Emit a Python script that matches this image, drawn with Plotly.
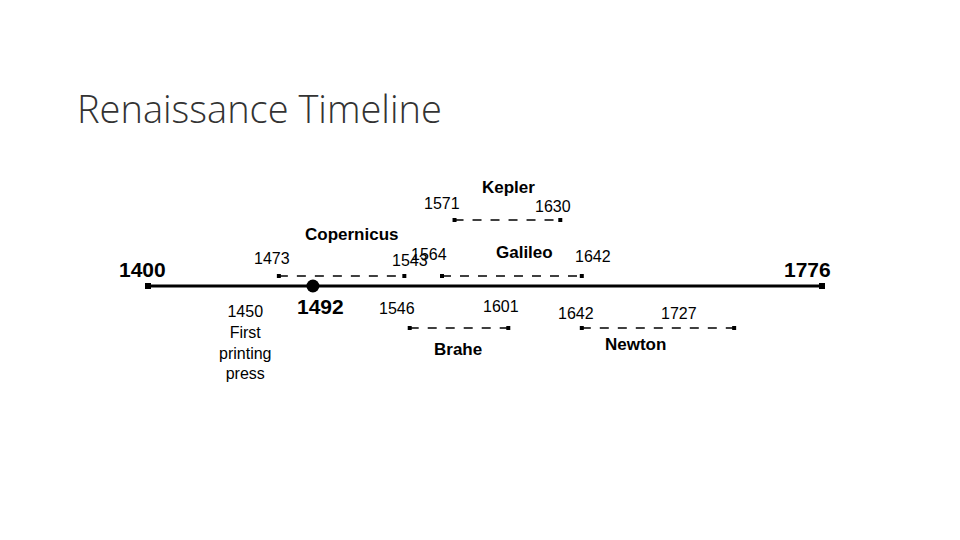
import plotly.graph_objects as go

# timeline data
start_year = 1400
end_year = 1776
invention_year = 1492
people = ["Copernicus", "Kepler", "Galileo", "Brahe", "Newton"]
born = [1473, 1571, 1564, 1546, 1642]
died = [1543, 1630, 1642, 1601, 1727]
rows = [260, 204, 260, 312, 312]   # vertical slot of each span (page px from top)
press_year = 1450

fig = go.Figure()

# main line
fig.add_trace(go.Scatter(
    x=[start_year, end_year], y=[270, 270], mode="lines+markers",
    line=dict(color="black", width=3), marker=dict(color="black", size=6, symbol="square"),
    hoverinfo="skip",
))
fig.add_trace(go.Scatter(
    x=[invention_year], y=[270], mode="markers",
    marker=dict(color="black", size=13), hoverinfo="skip",
))

for name, b, d, r in zip(people, born, died, rows):
    fig.add_trace(go.Scatter(
        x=[b, d], y=[r, r], mode="lines+markers",
        line=dict(color="black", width=1.5, dash="dash"),
        marker=dict(color="black", size=4, symbol="square"),
        hoverinfo="skip",
    ))

font = dict(family="Liberation Sans", size=16, color="black")
bold = dict(family="Liberation Sans", size=17, color="black", weight="bold")
big = dict(family="Liberation Sans", size=21, color="black", weight="bold")

def note(x, y, text, f, **kw):
    fig.add_annotation(x=x, y=y, text=text, font=f, showarrow=False, **kw)

note(start_year - 3, 253, str(start_year), big)
note(end_year - 8, 253, str(end_year), big)
note(invention_year + 4, 290, str(invention_year), big)
note(press_year + 4, 326, "%d<br>First<br>printing<br>press" % press_year, font, align="center")

note(1473 - 4, 242, "1473", font)
note(1546, 244, "1543", font)
note(1514, 218, "Copernicus", bold)
note(1571 - 7, 187, "1571", font)
note(1626, 190, "1630", font)
note(1601, 171, "Kepler", bold)
note(1564 - 7, 238, "1564", font)
note(1610, 236, "Galileo", bold)
note(1648, 240, "1642", font)
note(1546 - 7, 292, "1546", font)
note(1597, 290, "1601", font)
note(1573, 333, "Brahe", bold)
note(1642 - 3, 297, "1642", font)
note(1696, 297, "1727", font)
note(1672, 328, "Newton", bold)

fig.add_annotation(x=67 / 960, y=1 - 72 / 540, xref="paper", yref="paper", xanchor="left",
                   text="Renaissance Timeline", showarrow=False,
                   font=dict(family="Open Sans", size=38, color="#333333", weight=300))

px_per_year = (822 - 148) / (end_year - start_year)
x0 = start_year - 140 / px_per_year
fig.update_layout(
    width=960, height=540, margin=dict(l=0, r=0, t=0, b=0),
    paper_bgcolor="white", plot_bgcolor="white", showlegend=False,
    xaxis=dict(range=[x0, x0 + 960 / px_per_year], visible=False),
    yaxis=dict(range=[532, -8], visible=False),
)
fig.write_html("out.html")
